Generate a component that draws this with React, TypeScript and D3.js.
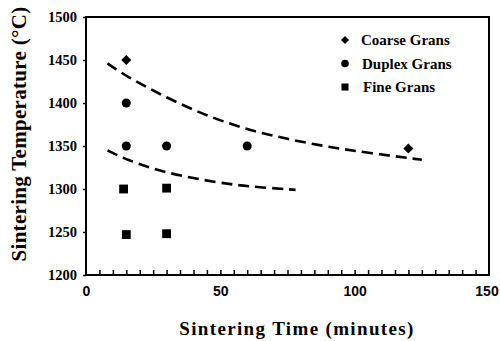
import { useRef, useEffect } from 'react';
import * as d3 from 'd3';

const WIDTH = 500;
const HEIGHT = 341;
const MARGIN = { top: 17, right: 11, bottom: 66, left: 86 };
const SERIF = '"Liberation Serif", "Times New Roman", serif';
const SANS = '"Liberation Sans", Arial, sans-serif';

// data
const coarseTime = [15, 120];
const coarseTemp = [1450, 1347];
const duplexTime = [15, 15, 30, 60];
const duplexTemp = [1400, 1350, 1350, 1350];
const fineTime = [14, 30, 15, 30];
const fineTemp = [1300, 1301, 1247, 1248];

// dashed boundary curves
const upperTime = [8, 15, 30, 45, 60, 75, 90, 105, 125];
const upperTemp = [1446, 1431, 1406, 1385, 1369, 1358, 1349, 1342, 1334];
const lowerTime = [8, 15, 30, 50, 60, 78];
const lowerTemp = [1345, 1334, 1318, 1307, 1303, 1299];

const xTicks = [0, 50, 100, 150];
const yTicks = [1200, 1250, 1300, 1350, 1400, 1450, 1500];
const legendLabels = ['Coarse Grans', 'Duplex Grans', 'Fine Grans'];

function App() {
  const svgRef = useRef<SVGSVGElement>(null);

  useEffect(() => {
    const svg = d3.select(svgRef.current);
    svg.selectAll('*').remove();

    const x = d3.scaleLinear().domain([0, 150]).range([MARGIN.left, WIDTH - MARGIN.right]);
    const y = d3.scaleLinear().domain([1200, 1500]).range([HEIGHT - MARGIN.bottom, MARGIN.top]);

    const g = svg.append('g');

    // frame
    g.append('rect')
      .attr('x', x(0)).attr('y', y(1500))
      .attr('width', x(150) - x(0)).attr('height', y(1200) - y(1500))
      .attr('fill', 'none').attr('stroke', '#000').attr('stroke-width', 2);

    // minor inner ticks on x
    g.append('g')
      .attr('transform', `translate(0,${y(1200)})`)
      .call(d3.axisBottom(x).tickValues(d3.range(5, 150, 5)).tickSize(-5).tickFormat(() => ''))
      .call(a => a.select('.domain').remove())
      .call(a => a.selectAll('.tick line').attr('stroke', '#000').attr('stroke-width', 1.5));

    // x tick labels
    g.append('g')
      .attr('transform', `translate(0,${y(1200)})`)
      .call(d3.axisBottom(x).tickValues(xTicks).tickSize(0).tickPadding(11).tickFormat(d3.format('d')))
      .call(a => a.select('.domain').remove())
      .call(a => a.selectAll('.tick text')
        .attr('fill', '#000').attr('font-size', 14).attr('font-weight', 700).attr('font-family', SANS)
        .attr('dx', (d: any) => (d === 150 ? -2.5 : 0)));

    // y axis
    g.append('g')
      .attr('transform', `translate(${x(0)},0)`)
      .call(d3.axisLeft(y).tickValues(yTicks).tickSize(3).tickPadding(6).tickFormat(d3.format('d')))
      .call(a => a.select('.domain').remove())
      .call(a => a.selectAll('.tick line').attr('stroke', '#000').attr('stroke-width', 1.5))
      .call(a => a.selectAll('.tick text')
        .attr('fill', '#000').attr('font-size', 14.5).attr('font-weight', 700).attr('font-family', SERIF));

    // dashed curves
    const line = d3.line<[number, number]>()
      .x(d => x(d[0])).y(d => y(d[1]))
      .curve(d3.curveBasis);

    [[upperTime, upperTemp], [lowerTime, lowerTemp]].forEach(([ts, vs]) => {
      g.append('path')
        .datum(ts.map((t, i) => [t, vs[i]] as [number, number]))
        .attr('d', line)
        .attr('fill', 'none')
        .attr('stroke', '#000')
        .attr('stroke-width', 2.6)
        .attr('stroke-dasharray', '11,6');
    });

    // markers
    const diamond = d3.symbol().type(d3.symbolDiamond2).size(64);
    const circle = d3.symbol().type(d3.symbolCircle).size(64);
    const square = d3.symbol().type(d3.symbolSquare).size(78);

    g.selectAll('.coarse')
      .data(coarseTime)
      .join('path')
      .attr('transform', (d, i) => `translate(${x(d)},${y(coarseTemp[i])})`)
      .attr('d', diamond)
      .attr('fill', '#000');

    g.selectAll('.duplex')
      .data(duplexTime)
      .join('path')
      .attr('transform', (d, i) => `translate(${x(d)},${y(duplexTemp[i])})`)
      .attr('d', circle)
      .attr('fill', '#000');

    g.selectAll('.fine')
      .data(fineTime)
      .join('path')
      .attr('transform', (d, i) => `translate(${x(d)},${y(fineTemp[i])})`)
      .attr('d', square)
      .attr('fill', '#000');

    // legend
    const legend = svg.append('g').attr('transform', 'translate(345, 40)');
    const legendSymbols = [
      d3.symbol().type(d3.symbolDiamond2).size(42),
      d3.symbol().type(d3.symbolCircle).size(46),
      d3.symbol().type(d3.symbolSquare).size(50),
    ];
    legendLabels.forEach((label, i) => {
      const lg = legend.append('g').attr('transform', `translate(0, ${i * 23.5})`);
      lg.append('path').attr('d', legendSymbols[i]).attr('fill', '#000');
      lg.append('text')
        .attr('x', 16 + i).attr('y', 5)
        .attr('fill', '#000')
        .attr('font-size', 15)
        .attr('font-weight', 700)
        .attr('font-family', SERIF)
        .text(label);
    });

    // axis titles
    svg.append('text')
      .attr('x', 297).attr('y', 335)
      .attr('text-anchor', 'middle')
      .attr('font-size', 19)
      .attr('font-weight', 700)
      .attr('font-family', SERIF)
      .attr('letter-spacing', 1.35)
      .text('Sintering Time (minutes)');

    svg.append('text')
      .attr('transform', 'translate(26, 134) rotate(-90)')
      .attr('text-anchor', 'middle')
      .attr('font-size', 21)
      .attr('font-weight', 700)
      .attr('font-family', SERIF)
      .attr('letter-spacing', 0.3)
      .text('Sintering Temperature (°C)');
  }, []);

  return (
    <svg
      ref={svgRef}
      width={WIDTH}
      height={HEIGHT}
      style={{ position: 'absolute', left: 0, top: 0, background: '#fff' }}
    />
  );
}

export default App;
